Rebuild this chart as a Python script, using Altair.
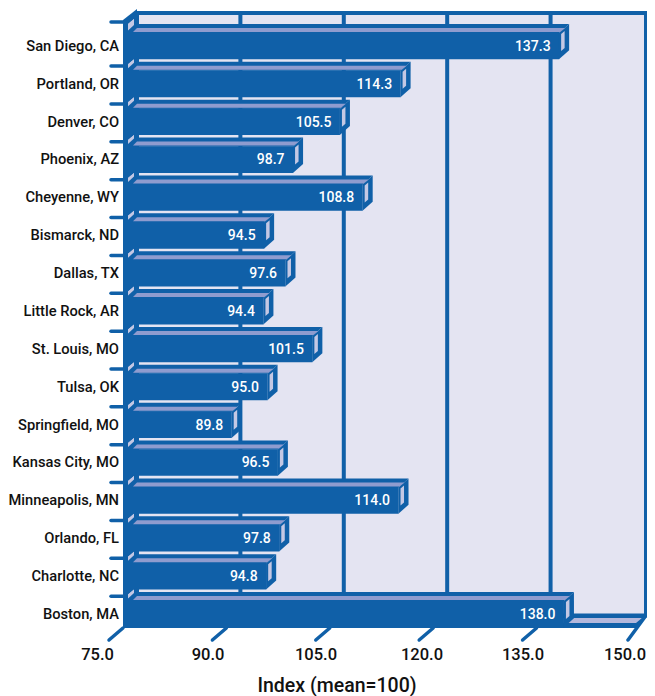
import altair as alt
import pandas as pd

cities = ["San Diego, CA", "Portland, OR", "Denver, CO", "Phoenix, AZ", "Cheyenne, WY", "Bismarck, ND",
          "Dallas, TX", "Little Rock, AR", "St. Louis, MO", "Tulsa, OK", "Springfield, MO", "Kansas City, MO",
          "Minneapolis, MN", "Orlando, FL", "Charlotte, NC", "Boston, MA"]
values = [137.3, 114.3, 105.5, 98.7, 108.8, 94.5, 97.6, 94.4, 101.5, 95.0, 89.8, 96.5, 114.0, 97.8, 94.8, 138.0]
# the drawn bar lengths (Orlando's bar is shorter than its printed label)
bar_lengths = [137.3, 114.3, 105.5, 98.7, 108.8, 94.5, 97.6, 94.4, 101.5, 95.0, 89.8, 96.5, 114.0, 96.7, 94.8, 138.0]
x_ticks = [75, 90, 105, 120, 135, 150]

BLUE = "#1060A8"
WALL = "#E4E4F2"
STRIP = "#8F9CCF"
SIDE = "#C4C8E4"
FLOOR = "#B4B8DC"
FONT = "Roboto"

W, H = 639, 688
PXU = 6.893          # px per index unit
ROW = 37.87          # px per row
def ux(px): return 75 + (px - 123) / PXU
def uy(px): return (px - 24) / ROW
xs = alt.Scale(domain=[ux(8), ux(647)], range=[0, W], nice=False, zero=False, padding=0)
ys = alt.Scale(domain=[uy(8), uy(696)], range=[0, H], nice=False, zero=False, padding=0)

DEPTH = 14 / PXU
BAR_SHIFT = 6.7 / PXU
BAR_DX = 10 / PXU
BAR_DY = 9 / ROW
FACE = 35.3 / ROW

def X(f="x"): return alt.X(f"{f}:Q", scale=xs, axis=None, stack=False)
def Y(f="y"): return alt.Y(f"{f}:Q", scale=ys, axis=None, stack=False)

def vert(rows):
    out = []
    for i, (x0, x1, t0, b0, t1, b1) in enumerate(rows):
        out += [dict(id=i, x=x0, y=t0, y2=b0), dict(id=i, x=x1, y=t1, y2=b1)]
    return pd.DataFrame(out)

def horiz(rows):
    out = []
    for i, (y0, y1, l0, r0, l1, r1) in enumerate(rows):
        out += [dict(id=i, y=y0, x=l0, x2=r0), dict(id=i, y=y1, x=l1, x2=r1)]
    return pd.DataFrame(out)

def v_area(rows, color):
    return alt.Chart(vert(rows)).mark_area(orient="vertical", color=color, opacity=1).encode(
        x=X(), y=Y(), y2="y2:Q", detail="id:N")

def h_area(rows, color):
    return alt.Chart(horiz(rows)).mark_area(orient="horizontal", color=color, opacity=1).encode(
        y=Y(), x=X(), x2="x2:Q", detail="id:N")

def rects(df, **kw):
    return alt.Chart(df).mark_rect(**kw).encode(x=X("x"), x2="x2:Q", y=Y("y"), y2="y2:Q")

def rules(df, width, cap="butt"):
    return alt.Chart(df).mark_rule(color=BLUE, strokeWidth=width, strokeCap=cap).encode(
        x=X("x"), x2="x2:Q", y=Y("y"), y2="y2:Q")

back0 = 75 + DEPTH
wall_top, wall_bot, front_bot = uy(13), uy(615.5), uy(628)

# back wall and its border
wall_border = rects(pd.DataFrame([dict(x=ux(135), x2=ux(647), y=uy(11), y2=uy(617.5))]), color=BLUE)
wall = rects(pd.DataFrame([dict(x=ux(139), x2=ux(644), y=uy(15), y2=uy(613.5))]), color=WALL)
grid = rules(pd.DataFrame([dict(x=t + DEPTH, x2=t + DEPTH, y=wall_top, y2=wall_bot) for t in x_ticks[1:-1]]), 4)

# left wall
left_wall = v_area([(75, back0, uy(20), front_bot, uy(9), wall_bot)], BLUE)
# floor
floor_blue = h_area([(wall_bot, front_bot, back0 - 0.3, ux(647), 75, ux(637))], BLUE)
floor_light = h_area([(uy(618), uy(623), back0, ux(642), back0 - 0.6, ux(636))], FLOOR)

# bars
tops = list(range(len(values)))
ends = [v + BAR_SHIFT for v in bar_lengths]
patches = []
for r in tops:
    patches.append((ux(128), ux(134), r + (0 if r == 0 else 2.5 / ROW), r + 6.5 / ROW,
                    r - (5 / ROW if r == 0 else 2.5 / ROW), r + 1 / ROW))
left_patch = v_area(patches, SIDE)

front = rects(pd.DataFrame([dict(x=75, x2=e, y=r + BAR_DY - 0.01, y2=r + FACE) for r, e in zip(tops, ends)]), color=BLUE)
top_face = h_area([(r, r + BAR_DY, 75 + 1.3, e + BAR_DX, 75, e) for r, e in zip(tops, ends)], BLUE)
side_face = v_area([(e - 0.02, e + BAR_DX, r + BAR_DY, r + FACE, r, r + FACE - BAR_DY) for r, e in zip(tops, ends)], BLUE)
top_strip = h_area([(r + 4 / ROW, r + 8 / ROW, ux(137), e + 6 / PXU, ux(133), e + 1 / PXU) for r, e in zip(tops, ends)], STRIP)
side_strip = v_area([(e + 2 / PXU, e + 5.5 / PXU, r + 10 / ROW, r + 27 / ROW, r + 7 / ROW, r + 24 / ROW)
                     for r, e in zip(tops, ends)], SIDE)

# ticks
y_tick_pos = [uy(22)] + [r + 0.11 for r in tops[1:]]
y_ticks = rules(pd.DataFrame([dict(x=ux(111), x2=75, y=p, y2=p) for p in y_tick_pos]), 3.5, "round")
tick_top = uy(628)
tick_end = uy(640)
xt = rules(pd.DataFrame([dict(x=t, x2=t - 14 / PXU, y=tick_top, y2=tick_end) for t in x_ticks[:-1]]
                        + [dict(x=ux(646), x2=ux(628), y=wall_bot, y2=tick_end)]), 3.5, "round")

# texts
cat_df = pd.DataFrame(dict(label=cities, y=[r + 22.8 / ROW for r in tops], x=ux(119)))
cat_text = alt.Chart(cat_df).mark_text(align="right", baseline="middle", font=FONT, fontSize=14.7,
                                       fontWeight=500, color="#111111").encode(
    x=X(), y=Y(), text="label:N")
val_df = pd.DataFrame(dict(label=[f"{v:.1f}" for v in values], y=[r + 22.8 / ROW for r in tops],
                           x=[e - 8.5 / PXU for e in ends]))
val_text = alt.Chart(val_df).mark_text(align="right", baseline="middle", font=FONT, fontSize=14,
                                       fontWeight=500, color="white").encode(
    x=X(), y=Y(), text="label:N")
tick_label_x = [97.5, 208, 316, 422, 523, 625]
tl_df = pd.DataFrame(dict(label=[f"{t:.1f}" for t in x_ticks], x=[ux(p) for p in tick_label_x], y=uy(655)))
tick_text = alt.Chart(tl_df).mark_text(align="center", baseline="middle", font=FONT, fontSize=16.5,
                                       fontWeight=500, color="#111111").encode(
    x=X(), y=Y(), text="label:N")
title_df = pd.DataFrame(dict(label=["Index (mean=100)"], x=[ux(337)], y=[uy(685.5)]))
title_text = alt.Chart(title_df).mark_text(align="center", baseline="middle", font=FONT, fontSize=19.5,
                                           fontWeight=500, color="#111111").encode(
    x=X(), y=Y(), text="label:N")

chart = alt.layer(
    wall_border, wall, grid, left_wall, floor_blue, floor_light, left_patch,
    y_ticks, xt, front, top_face, side_face, left_patch, top_strip, side_strip,
    cat_text, val_text, tick_text, title_text,
).properties(width=W, height=H, padding=0, autosize=alt.AutoSizeParams(type="none")).configure_view(stroke=None)

chart.save("out.html", embed_options={"renderer": "svg", "actions": False})
